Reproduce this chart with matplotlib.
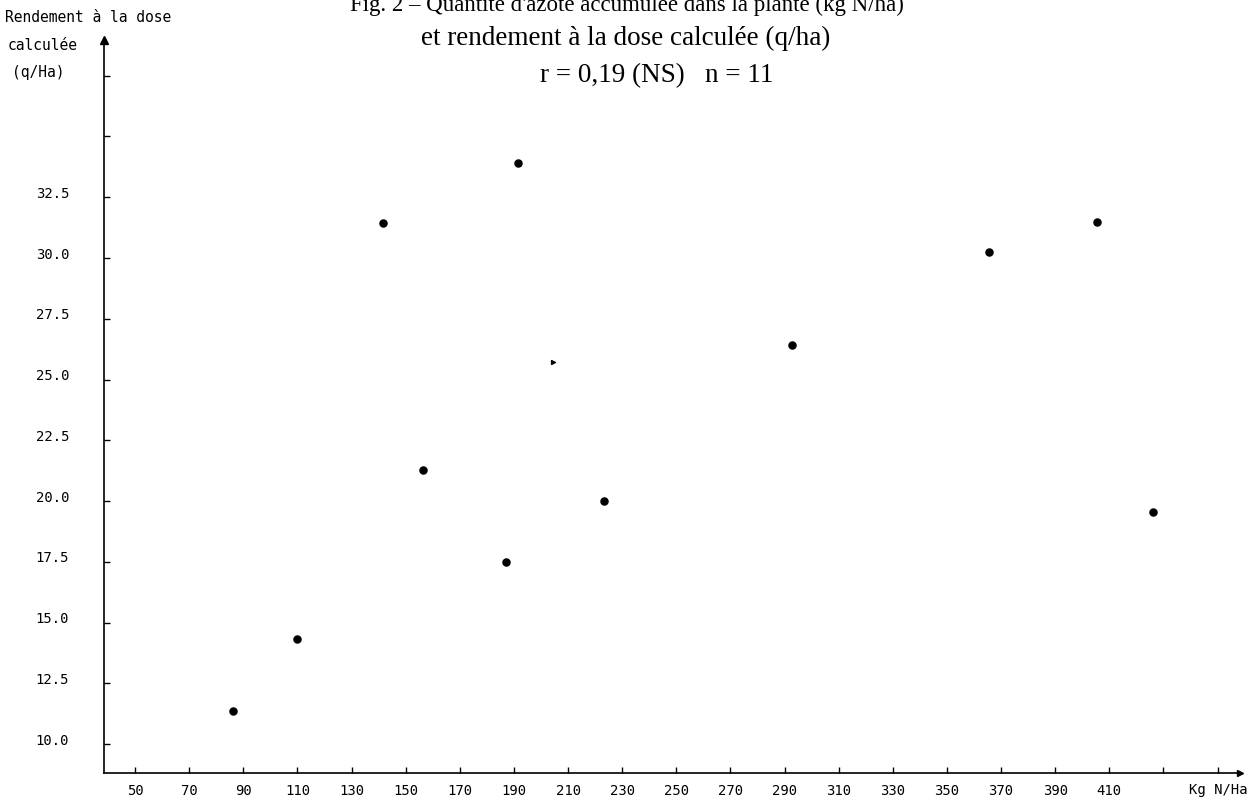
import matplotlib
matplotlib.use('Agg')
import matplotlib.pyplot as plt
import matplotlib.transforms as mtransforms

# ---- data ----
nitrogen_kg_ha = [86.0, 109.8, 141.5, 156.2, 187.0, 191.6, 223.4, 292.8, 365.5, 405.5, 426.3]
yield_q_ha = [11.36, 14.32, 31.42, 21.29, 17.49, 33.89, 20.02, 26.44, 30.26, 31.49, 19.54]
stray_x = [204.4]
stray_y = [25.74]

x_ticks = [50, 70, 90, 110, 130, 150, 170, 190, 210, 230, 250, 270, 290, 310, 330, 350, 370, 390, 410, 430, 450]
x_tick_labels = ['50', '70', '90', '110', '130', '150', '170', '190', '210', '230', '250', '270',
                 '290', '310', '330', '350', '370', '390', '410', '', '']
y_ticks = [10.0, 12.5, 15.0, 17.5, 20.0, 22.5, 25.0, 27.5, 30.0, 32.5, 35.0, 37.5]
y_tick_labels = ['10.0', '12.5', '15.0', '17.5', '20.0', '22.5', '25.0', '27.5', '30.0', '32.5', '', '']

title_lines = ["Fig. 2 \u2013 Quantit\u00e9 d'azote accumul\u00e9e dans la plante (kg N/ha)",
               "et rendement \u00e0 la dose calcul\u00e9e (q/ha)",
               "r = 0,19 (NS)   n = 11"]
y_label_lines = ["Rendement \u00e0 la dose", "calcul\u00e9e", "(q/Ha)"]
x_label = "Kg N/Ha"

# ---- figure ----
W, H = 1251, 803
fig = plt.figure(figsize=(W / 100, H / 100), dpi=100)
fig.patch.set_facecolor('white')

def fx(px):
    return px / W

def fy(py):
    return 1 - py / H

ax = fig.add_axes([fx(104), fy(774), fx(1240) - fx(104), fy(41) - fy(774)])
ax.set_xlim(38.5, 458.3)
ax.set_ylim(8.81, 38.97)

mono = 'DejaVu Sans Mono'
serif = 'Liberation Serif'

ax.scatter(nitrogen_kg_ha, yield_q_ha, s=26, color='black', zorder=3)
ax.scatter(stray_x, stray_y, s=8, marker='>', color='black', zorder=3)

for side in ['top', 'right']:
    ax.spines[side].set_visible(False)
for side in ['left', 'bottom']:
    ax.spines[side].set_linewidth(1.2)
    ax.spines[side].set_color('black')

ax.set_xticks(x_ticks)
ax.set_xticklabels(x_tick_labels, fontfamily=mono, fontsize=10)
ax.set_yticks(y_ticks)
ax.set_yticklabels(y_tick_labels, fontfamily=mono, fontsize=10)
ax.tick_params(axis='x', direction='in', length=4, width=1, pad=7)
ax.tick_params(axis='y', direction='in', length=4, width=1, pad=25)

off = mtransforms.ScaledTranslation(0, 6 / 100, fig.dpi_scale_trans)
for lab in ax.get_yticklabels():
    lab.set_transform(lab.get_transform() + off)

# axis arrows
ax.plot([0], [1], marker='^', markersize=6, color='black', transform=ax.transAxes, clip_on=False)
ax.plot([1], [0], marker='>', markersize=5, color='black', transform=ax.transAxes, clip_on=False)

# titles (first line is cut by the top edge, as in the source scan)
fig.text(fx(627), fy(11), title_lines[0], ha='center', va='baseline', fontfamily=serif, fontsize=16.5)
fig.text(fx(626), fy(45), title_lines[1], ha='center', va='baseline', fontfamily=serif, fontsize=19.5)
fig.text(fx(657), fy(82), title_lines[2], ha='center', va='baseline', fontfamily=serif, fontsize=19.5)

# y-axis label (top-left)
fig.text(fx(5), fy(18), y_label_lines[0], ha='left', va='center', fontfamily=mono, fontsize=10.5)
fig.text(fx(8), fy(45), y_label_lines[1], ha='left', va='center', fontfamily=mono, fontsize=10.5)
fig.text(fx(12), fy(72), y_label_lines[2], ha='left', va='center', fontfamily=mono, fontsize=10.5)

# x-axis label
fig.text(fx(1218), fy(790), x_label, ha='center', va='center', fontfamily=mono, fontsize=10)

fig.savefig('out.png', dpi=100, facecolor='white')
